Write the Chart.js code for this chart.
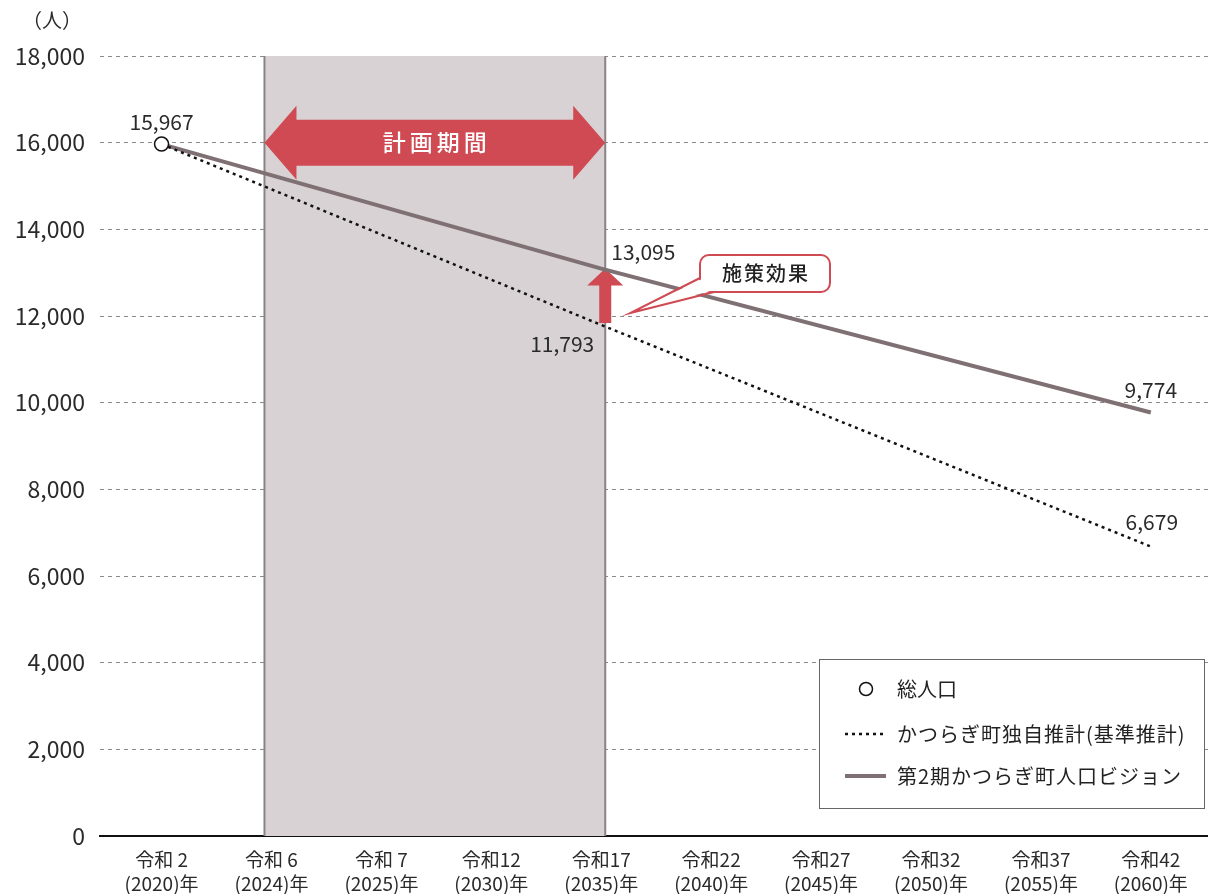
<!DOCTYPE html>
<html>
<head>
<meta charset="utf-8">
<script src="https://cdn.jsdelivr.net/npm/chart.js@4"></script>
<style>
  html, body { margin: 0; padding: 0; background: #fff; overflow: hidden; }
  canvas { display: block; }
</style>
</head>
<body>
<canvas id="chart" width="1208" height="894"></canvas>
<script>
  const FONT = '"Noto Sans CJK JP", "Noto Sans", sans-serif';

  const eraLabels = ['令和 2', '令和 6', '令和 7', '令和12', '令和17', '令和22', '令和27', '令和32', '令和37', '令和42'];
  const yearLabels = ['(2020)年', '(2024)年', '(2025)年', '(2030)年', '(2035)年', '(2040)年', '(2045)年', '(2050)年', '(2055)年', '(2060)年'];

  const totalPop = [15967, null, null, null, null, null, null, null, null, null];
  const basePop = [15967, null, null, null, 11793, null, null, null, null, 6679];
  const visionPop = [15967, null, null, null, 13095, null, null, null, null, 9774];

  const yTicks = [0, 2000, 4000, 6000, 8000, 10000, 12000, 14000, 16000, 18000];

  // 計画期間 covers 令和6 .. 令和17
  const planStart = 1;
  const planEnd = 4;

  const RED = '#cf4a52';
  const VISION = '#7f7074';

  // points keyed by category index
  const toPoints = (arr) => arr.map((v, i) => ({ x: i, y: v }));

  const annotations = {
    id: 'annotations',
    beforeDatasetsDraw(chart) {
      const { ctx, chartArea, scales: { x, y } } = chart;
      const x0 = x.getPixelForValue(planStart) - 7;
      const x1 = x.getPixelForValue(planEnd) + 4;
      ctx.save();
      // shaded planning band
      ctx.fillStyle = '#d8d2d5';
      ctx.fillRect(x0, chartArea.top, x1 - x0, chartArea.bottom - chartArea.top);
      ctx.strokeStyle = '#8c8285';
      ctx.lineWidth = 2;
      ctx.beginPath();
      ctx.moveTo(x0, chartArea.top); ctx.lineTo(x0, chartArea.bottom);
      ctx.moveTo(x1, chartArea.top); ctx.lineTo(x1, chartArea.bottom);
      ctx.stroke();

      // double arrow with 計画期間
      const cy = y.getPixelForValue(16000);
      ctx.fillStyle = RED;
      ctx.beginPath();
      ctx.moveTo(x0, cy);
      ctx.lineTo(x0 + 32, cy - 37);
      ctx.lineTo(x0 + 32, cy - 23);
      ctx.lineTo(x1 - 32, cy - 23);
      ctx.lineTo(x1 - 32, cy - 37);
      ctx.lineTo(x1, cy);
      ctx.lineTo(x1 - 32, cy + 37);
      ctx.lineTo(x1 - 32, cy + 23);
      ctx.lineTo(x0 + 32, cy + 23);
      ctx.lineTo(x0 + 32, cy + 37);
      ctx.closePath();
      ctx.fill();
      ctx.fillStyle = '#fff';
      ctx.font = '500 23px ' + FONT;
      ctx.textAlign = 'center';
      ctx.textBaseline = 'middle';
      ctx.letterSpacing = '4px';
      ctx.fillText('計画期間', (x0 + x1) / 2 + 2, cy);
      ctx.letterSpacing = '0px';

      // up arrow: effect of measures
      const ax = x.getPixelForValue(planEnd) + 4;
      const aTop = y.getPixelForValue(visionPop[planEnd]);
      const aBot = y.getPixelForValue(basePop[planEnd]) - 2;
      ctx.fillStyle = RED;
      ctx.beginPath();
      ctx.moveTo(ax, aTop);
      ctx.lineTo(ax + 18, aTop + 17);
      ctx.lineTo(ax + 6, aTop + 17);
      ctx.lineTo(ax + 6, aBot);
      ctx.lineTo(ax - 6, aBot);
      ctx.lineTo(ax - 6, aTop + 17);
      ctx.lineTo(ax - 18, aTop + 17);
      ctx.closePath();
      ctx.fill();
      ctx.restore();
    },
    afterDatasetsDraw(chart) {
      const { ctx, scales: { x, y } } = chart;
      ctx.save();
      ctx.fillStyle = '#2a2a2a';
      ctx.font = '21px ' + FONT;
      ctx.textBaseline = 'middle';

      // value labels
      const px = (i) => x.getPixelForValue(i);
      ctx.textAlign = 'center';
      ctx.fillText('15,967', px(0), y.getPixelForValue(totalPop[0]) - 22);
      ctx.textAlign = 'left';
      ctx.fillText('13,095', px(4) + 10, y.getPixelForValue(visionPop[4]) - 17);
      ctx.textAlign = 'right';
      ctx.fillText('11,793', px(4) - 7, y.getPixelForValue(basePop[4]) + 19);
      ctx.textAlign = 'center';
      ctx.fillText('9,774', px(9), y.getPixelForValue(visionPop[9]) - 22);
      ctx.fillText('6,679', px(9) + 1, y.getPixelForValue(basePop[9]) - 25);

      // callout 施策効果
      const bx = 700, by = 255, bw = 130, bh = 37;
      ctx.strokeStyle = RED;
      ctx.lineWidth = 2;
      ctx.fillStyle = '#fff';
      ctx.beginPath();
      ctx.roundRect(bx, by, bw, bh, 9);
      ctx.fill();
      ctx.stroke();
      const tipX = px(4) + 29, tipY = y.getPixelForValue(12000) - 3;
      ctx.beginPath();
      ctx.moveTo(bx + 2, by + 24);
      ctx.lineTo(tipX, tipY);
      ctx.lineTo(bx + 14, by + bh - 2);
      ctx.closePath();
      ctx.fill();
      ctx.beginPath();
      ctx.moveTo(bx, by + 23);
      ctx.lineTo(tipX, tipY);
      ctx.lineTo(bx + 14, by + bh);
      ctx.stroke();
      ctx.fillStyle = '#222';
      ctx.font = '500 20px ' + FONT;
      ctx.textAlign = 'center';
      ctx.letterSpacing = '2px';
      ctx.fillText('施策効果', bx + bw / 2 + 1, by + bh / 2);
      ctx.letterSpacing = '0px';

      // legend box
      const lx = 819, ly = 659, lw = 385, lh = 149;
      ctx.fillStyle = '#fff';
      ctx.fillRect(lx, ly, lw, lh);
      ctx.strokeStyle = '#666';
      ctx.lineWidth = 1;
      ctx.strokeRect(lx + 0.5, ly + 0.5, lw, lh);

      ctx.font = '20px ' + FONT;
      ctx.textAlign = 'left';
      ctx.fillStyle = '#222';
      ctx.beginPath();
      ctx.arc(866, 689, 6.5, 0, Math.PI * 2);
      ctx.strokeStyle = '#111';
      ctx.lineWidth = 1.5;
      ctx.stroke();
      ctx.fillText('総人口', 897, 689);

      ctx.strokeStyle = '#111';
      ctx.lineWidth = 2.5;
      ctx.setLineDash([3, 4]);
      ctx.beginPath();
      ctx.moveTo(845, 734); ctx.lineTo(886, 734);
      ctx.stroke();
      ctx.setLineDash([]);
      ctx.letterSpacing = '1px';
      ctx.fillText('かつらぎ町独自推計(基準推計)', 897, 734);

      ctx.strokeStyle = VISION;
      ctx.lineWidth = 4;
      ctx.beginPath();
      ctx.moveTo(845, 776); ctx.lineTo(886, 776);
      ctx.stroke();
      ctx.fillText('第2期かつらぎ町人口ビジョン', 897, 776);
      ctx.letterSpacing = '0px';

      // unit
      ctx.font = '20px ' + FONT;
      ctx.textAlign = 'center';
      ctx.fillStyle = '#2a2a2a';
      ctx.fillText('（人）', 52, 20);
      ctx.restore();
    }
  };

  new Chart(
    document.getElementById('chart'),
    {
      type: 'line',
      data: {
        datasets: [
          {
            label: '第2期かつらぎ町人口ビジョン',
            data: toPoints(visionPop),
            borderColor: VISION,
            borderWidth: 4,
            pointRadius: 0,
            spanGaps: true,
            order: 3
          },
          {
            label: 'かつらぎ町独自推計(基準推計)',
            data: toPoints(basePop),
            borderColor: '#111',
            borderWidth: 2.5,
            borderDash: [3, 4],
            pointRadius: 0,
            spanGaps: true,
            order: 2
          },
          {
            label: '総人口',
            data: toPoints(totalPop),
            showLine: false,
            pointRadius: 7,
            pointBackgroundColor: '#fff',
            pointBorderColor: '#111',
            pointBorderWidth: 1.5,
            order: 1
          }
        ]
      },
      options: {
        responsive: false,
        animation: false,
        layout: {
          autoPadding: false,
          padding: { top: 56, right: 0, left: 0, bottom: 0 }
        },
        plugins: {
          legend: { display: false },
          tooltip: { enabled: false }
        },
        scales: {
          y: {
            min: 0,
            max: 18000,
            afterBuildTicks: (scale) => { scale.ticks = yTicks.map(v => ({ value: v })); },
            afterFit: (scale) => { scale.width = 100; },
            grid: {
              color: '#8a8a8a',
              lineWidth: 1,
              drawTicks: false
            },
            border: { display: false, dash: [4, 4] },
            ticks: {
              color: '#2a2a2a',
              padding: 15,
              font: { family: FONT, size: 23 },
              callback: (v) => v.toLocaleString('en-US')
            }
          },
          x: {
            type: 'linear',
            min: -0.56,
            max: 9.52,
            afterBuildTicks: (scale) => { scale.ticks = eraLabels.map((e, i) => ({ value: i })); },
            afterFit: (scale) => {
              scale.height = 58;
              scale.paddingLeft = 0;
              scale.paddingRight = 0;
            },
            grid: { display: false },
            border: { color: '#111', width: 2 },
            ticks: {
              color: '#2a2a2a',
              padding: 3,
              maxRotation: 0,
              autoSkip: false,
              font: { family: FONT, size: 19, lineHeight: 1.3 },
              callback: (v) => [eraLabels[v], yearLabels[v]]
            }
          }
        }
      },
      plugins: [annotations]
    }
  );
</script>
</body>
</html>
